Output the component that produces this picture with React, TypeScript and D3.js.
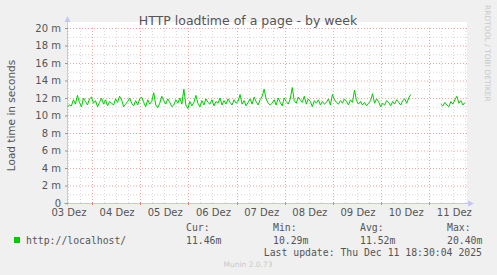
import React from "react";
import * as d3 from "d3";

const W = 497;
const H = 275;

const title = "HTTP loadtime of a page - by week";
const yAxisTitle = "Load time in seconds";
const yTicks = [0, 2, 4, 6, 8, 10, 12, 14, 16, 18, 20];
const yTickLabels = ["0", "2 m", "4 m", "6 m", "8 m", "10 m", "12 m", "14 m", "16 m", "18 m", "20 m"];
const dayLabels = ["03 Dez", "04 Dez", "05 Dez", "06 Dez", "07 Dez", "08 Dez", "09 Dez", "10 Dez", "11 Dez"];
const seriesName = "http://localhost/";
const legendHeads = ["Cur:", "Min:", "Avg:", "Max:"];
const legendValues = ["11.46m", "10.29m", "11.52m", "20.40m"];
const lastUpdate = "Last update: Thu Dec 11 18:30:04 2025";
const footer = "Munin 2.0.73";
const sideText = "RRDTOOL / TOBI OETIKER";

// hourly load time samples in milliseconds (null = no data)
const loadValues: (number | null)[] = [
  11.0, 11.2, 11.1, 11.8, 11.3, 12.3, 11.5, 11.0, 12.0, 11.6, 11.2, 11.9, 12.1, 11.4, 11.7, 11.0, 11.5, 12.0, 11.3, 11.8,
  11.1, 11.6, 11.4, 11.2, 11.9, 11.5, 12.2, 11.8, 11.0, 11.3, 11.6, 12.0, 11.4, 11.1, 11.7, 11.2, 11.9, 12.1, 11.5, 11.0,
  11.8, 11.3, 11.6, 12.6, 11.2, 10.9, 11.4, 12.2, 11.7, 11.3, 11.9,
  11.5, 11.0, 11.2, 11.8, 11.4, 12.0, 11.3, 13.0, 11.2, 10.8, 11.6, 11.1, 11.5, 12.3, 11.4, 11.0, 11.7, 11.2, 11.9, 11.5,
  11.3, 11.8, 11.1, 11.6, 11.4, 12.0, 11.2, 11.7, 11.3, 11.9, 11.5, 11.2, 11.8, 11.4, 11.6, 12.4, 11.3, 11.7, 11.1, 11.5,
  11.9, 11.3, 12.1, 11.6, 11.2, 11.8, 12.2, 13.0, 11.9, 11.4, 11.2,
  11.4, 11.8, 11.2, 12.0, 11.5, 11.1, 12.0, 11.6, 11.3, 11.9, 13.2, 11.7, 11.4, 12.1, 11.8, 11.5, 12.2, 11.3, 11.9, 11.6,
  11.0, 11.7, 11.4, 11.8, 11.2, 11.6, 11.3, 11.5, 11.9, 11.2, 12.4, 11.8, 11.5, 11.3, 11.7, 11.4, 11.9, 11.6, 11.2, 11.8,
  11.5, 12.9, 11.7, 11.3, 11.6, 11.2, 11.5, 11.1, 11.4, 11.7, 12.5,
  11.4, 11.9, 11.6, 11.0, 11.4, 11.2, 11.7, 11.5, 11.1, 11.6, 11.3, 11.8, 11.5, 11.2, 11.7, 11.9, 11.4, 12.0, 12.4,
  null, null, null, null, null, null, null, null, null, null, null, null, null, null,
  11.3, 11.1, 11.5, 11.2, 11.0, 11.6, 11.3, 11.8, 12.2, 11.4, 11.7, 11.2, 11.5,
];

const HOUR = 3600 * 1000;
const tStart = Date.UTC(2025, 11, 3, 11, 33);
const tEnd = Date.UTC(2025, 11, 11, 18, 47);
const firstSample = Date.UTC(2025, 11, 3, 11, 45);

const plot = { left: 67, right: 467, top: 28, bottom: 203 };

export default function App() {
  const x = d3.scaleUtc().domain([new Date(tStart), new Date(tEnd)]).range([plot.left, plot.right]);
  const y = d3.scaleLinear().domain([0, 20]).range([plot.bottom, plot.top]);

  const data = loadValues.map((v, i) => ({ t: new Date(firstSample + i * HOUR), v }));
  const line = d3
    .line<{ t: Date; v: number | null }>()
    .defined((d) => d.v !== null)
    .x((d) => x(d.t))
    .y((d) => y(d.v as number));

  const minorX = d3.utcHour.every(6)!.range(new Date(tStart), new Date(tEnd));
  const majorX = d3.utcDay.range(new Date(tStart), new Date(tEnd));
  const noonX = d3.utcDay
    .range(new Date(tStart - 24 * HOUR), new Date(tEnd))
    .map((d) => new Date(+d + 12 * HOUR))
    .filter((d) => +d >= tStart - HOUR && +d <= tEnd);
  const minorY = d3.range(0, 21, 1);

  const grey = "#555";
  const mono = "'DejaVu Sans Mono', monospace";
  const sans = "'DejaVu Sans', sans-serif";
  const axisCol = "#c6c6f5";
  const legendX = [186, 273, 360, 447];

  return (
    <svg
      width={W}
      height={H}
      style={{ position: "fixed", left: 0, top: 0, display: "block" }}
      xmlns="http://www.w3.org/2000/svg"
    >
      <rect x={0} y={0} width={W} height={H} fill="#f0f0f0" />
      <rect x={plot.left} y={plot.top - 6} width={plot.right - plot.left} height={plot.bottom - plot.top + 6} fill="#ffffff" />

      {/* minor grid */}
      {minorY.filter((v) => v % 2 !== 0).map((v) => (
        <line key={"my" + v} x1={plot.left} x2={plot.right} y1={y(v) + 0.5} y2={y(v) + 0.5} stroke="#d8d8d8" strokeDasharray="1,2" />
      ))}
      {minorX.map((d, i) => (
        <line key={"mx" + i} x1={Math.round(x(d)) + 0.5} x2={Math.round(x(d)) + 0.5} y1={plot.top} y2={plot.bottom} stroke="#d8d8d8" strokeDasharray="1,2" />
      ))}
      {/* major grid */}
      {yTicks.filter((v) => v > 0).map((v) => (
        <line key={"My" + v} x1={plot.left} x2={plot.right} y1={y(v) + 0.5} y2={y(v) + 0.5} stroke="#eba6a6" strokeDasharray="1,2" />
      ))}
      {majorX.map((d, i) => (
        <line key={"Mx" + i} x1={Math.round(x(d)) + 0.5} x2={Math.round(x(d)) + 0.5} y1={plot.top} y2={plot.bottom} stroke="#eba6a6" strokeDasharray="1,2" />
      ))}

      {/* axes */}
      <line x1={plot.left + 0.5} x2={plot.left + 0.5} y1={plot.bottom + 3} y2={plot.top - 8} stroke={axisCol} />
      <path d={`M${plot.left - 2.5},${plot.top - 6} L${plot.left + 3.5},${plot.top - 6} L${plot.left + 0.5},${plot.top - 12} Z`} fill={axisCol} />
      <line x1={plot.left - 3} x2={plot.right + 3} y1={plot.bottom + 0.5} y2={plot.bottom + 0.5} stroke={axisCol} />
      <path d={`M${plot.right + 1},${plot.bottom - 2.5} L${plot.right + 1},${plot.bottom + 3.5} L${plot.right + 7},${plot.bottom + 0.5} Z`} fill={axisCol} />
      {yTicks.map((v) => (
        <line key={"yt" + v} x1={plot.left - 2} x2={plot.left + 1} y1={y(v) + 0.5} y2={y(v) + 0.5} stroke="#999" />
      ))}
      {majorX.map((d, i) => (
        <line key={"xt" + i} x1={Math.round(x(d)) + 0.5} x2={Math.round(x(d)) + 0.5} y1={plot.bottom - 1} y2={plot.bottom + 2} stroke="#e08080" />
      ))}

      {/* data */}
      <path d={line(data) || ""} fill="none" stroke="#00cc00" strokeWidth={1} />

      {/* y labels */}
      {yTicks.map((v, i) => (
        <text key={"yl" + v} x={plot.left - 6} y={y(v) + 3.5} textAnchor="end" fontFamily={sans} fontSize={10} fill={grey}>
          {yTickLabels[i]}
        </text>
      ))}
      {/* x labels */}
      {noonX.map((d, i) => (
        <text key={"xl" + i} x={x(d) + 1} y={216} textAnchor="middle" fontFamily={sans} fontSize={10} fill={grey}>
          {dayLabels[i]}
        </text>
      ))}

      <text x={248} y={25} textAnchor="middle" fontFamily={sans} fontSize={12.5} fill={grey}>
        {title}
      </text>
      <text transform={`translate(15,${(plot.top + plot.bottom) / 2}) rotate(-90)`} textAnchor="middle" fontFamily={sans} fontSize={10.5} fill={grey}>
        {yAxisTitle}
      </text>
      <text transform={`translate(485,5) rotate(90)`} textAnchor="start" fontFamily={sans} fontSize={7.5} fill="#c8c8c8">
        {sideText}
      </text>

      {/* legend */}
      <rect x={14} y={237} width={6} height={6} fill="#00cc00" />
      <text x={26} y={244} fontFamily={mono} fontSize={9.8} fill={grey}>
        {seriesName}
      </text>
      {legendHeads.map((h, i) => (
        <text key={"lh" + i} x={legendX[i]} y={231} fontFamily={mono} fontSize={9.8} fill={grey}>
          {h}
        </text>
      ))}
      {legendValues.map((v, i) => (
        <text key={"lv" + i} x={legendX[i]} y={244} fontFamily={mono} fontSize={9.8} fill={grey}>
          {v}
        </text>
      ))}
      <text x={482} y={256} textAnchor="end" fontFamily={mono} fontSize={9.8} fill={grey}>
        {lastUpdate}
      </text>
      <text x={248} y={267} textAnchor="middle" fontFamily={sans} fontSize={7.5} fill="#c8c8c8">
        {footer}
      </text>
    </svg>
  );
}
